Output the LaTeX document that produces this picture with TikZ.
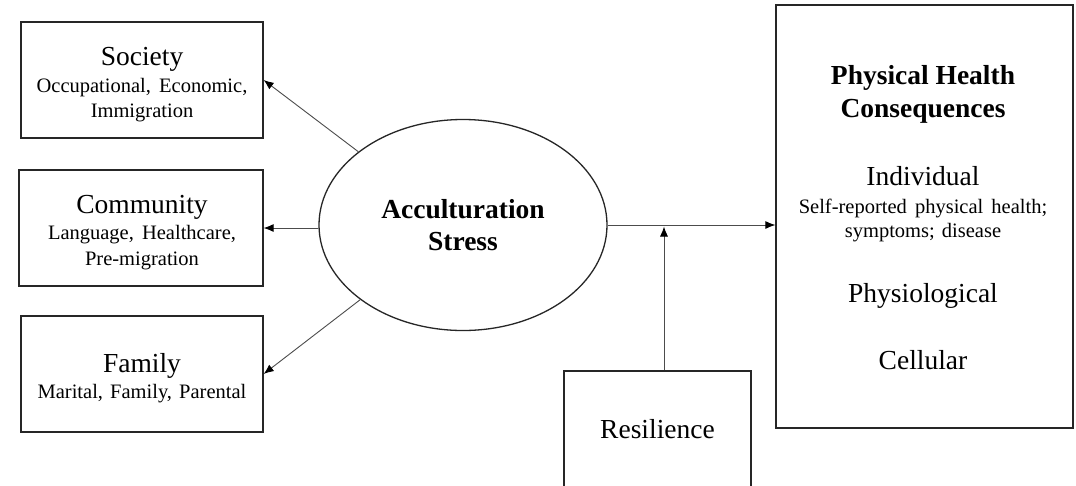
\documentclass[tikz,border=0pt]{standalone}
\usepackage{fontspec}
\setmainfont{Liberation Serif}
\usetikzlibrary{arrows.meta,shapes.geometric}
\tikzset{
  box/.style={draw=black!85, line width=1.3pt, rectangle, inner sep=0pt},
  oval/.style={draw=black!85, line width=1.3pt, ellipse, inner sep=0pt},
  big/.style={anchor=base, inner sep=0pt, font=\fontsize{27.5}{30}\selectfont},
  bigb/.style={anchor=base, inner sep=0pt, font=\fontsize{27.5}{30}\selectfont\bfseries},
  small/.style={anchor=base, inner sep=0pt, font=\fontsize{20.5}{24}\selectfont},
  conn/.style={draw=black!70, line width=0.9pt, -{Latex[length=10pt,width=8pt,fill=black,color=black]}}
}
\begin{document}
\begin{tikzpicture}[x=1pt,y=-1pt]
\clip (0,0) rectangle (1076,485);
\fill[white] (0,0) rectangle (1076,485);

% boxes
\node[box, minimum width=242pt, minimum height=116pt] (soc) at (142,80) {};
\node[box, minimum width=244pt, minimum height=116pt] (com) at (141,228) {};
\node[box, minimum width=242pt, minimum height=116pt] (fam) at (142,374) {};
\node[oval, minimum width=288pt, minimum height=211pt] (ae) at (463,225) {};
\node[box, minimum width=297pt, minimum height=423pt] (phc) at (924.5,216.5) {};
\node[box, minimum width=187pt, minimum height=130pt] (res) at (657.5,436) {};

% texts
\node[big]   (socT)  at (142,65)  {Society};
\node[small] (socA)  at (142,92)  {Occupational,\hspace{3pt} Economic,};
\node[small] (socB)  at (142,117) {Immigration};
\node[big]   (comT)  at (142,213) {Community};
\node[small] (comA)  at (142,239) {Language,\hspace{3pt} Healthcare,};
\node[small] (comB)  at (142,265) {Pre-migration};
\node[big]   (famT)  at (142,372) {Family};
\node[small] (famA)  at (142,398) {Marital,\hspace{2pt} Family,\hspace{2pt} Parental};
\node[bigb]  (aeA)   at (463,218) {Acculturation};
\node[bigb]  (aeB)   at (463,250) {Stress};
\node[bigb]  (phcA)  at (923,84)  {Physical Health};
\node[bigb]  (phcB)  at (923,117) {Consequences};
\node[big]   (phcC)  at (923,185) {Individual};
\node[small] (phcD)  at (923,213) {Self-reported\hspace{3pt} physical\hspace{3pt} health;};
\node[small] (phcE)  at (923,237) {symptoms;\hspace{2pt} disease};
\node[big]   (phcF)  at (923,302) {Physiological};
\node[big]   (phcG)  at (923,369) {Cellular};
\node[big]   (resT)  at (657.5,438) {Resilience};

% connectors
\draw[conn] (ae.145) -- (soc.east);
\draw[conn] (com.east -| ae.west) -- (com.east);
\draw[conn] (ae.216) -- (fam.east);
\draw[conn] (ae.east) -- (phc.west |- ae.east);
\coordinate (mod) at (664,225);
\draw[conn] (res.north -| mod) -- ([yshift=-1.5pt]mod);
\end{tikzpicture}
\end{document}
